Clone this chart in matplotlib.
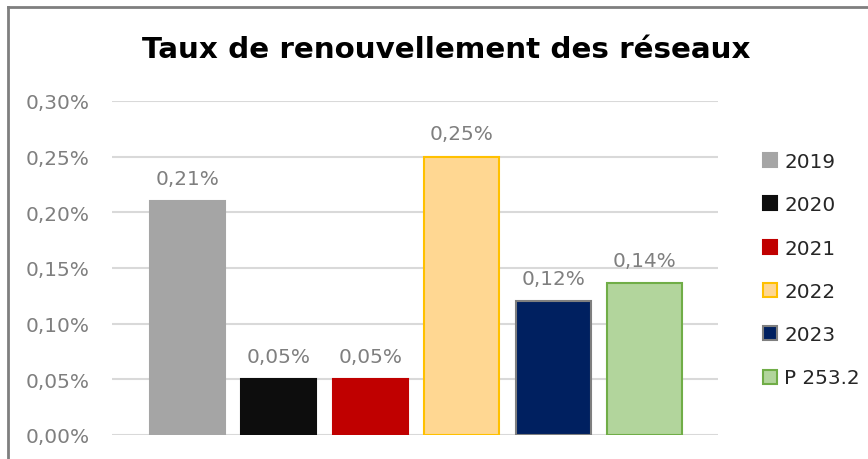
import matplotlib
matplotlib.use("Agg")
import matplotlib.pyplot as plt
from matplotlib.lines import Line2D
from matplotlib.patches import Patch

# data
series = ["2019", "2020", "2021", "2022", "2023", "P 253.2"]
values = [0.21, 0.05, 0.05, 0.25, 0.12, 0.1365]
labels = ["0,21%", "0,05%", "0,05%", "0,25%", "0,12%", "0,14%"]
ticks = [0.0, 0.05, 0.10, 0.15, 0.20, 0.25, 0.30]
tick_labels = ["0,00%", "0,05%", "0,10%", "0,15%", "0,20%", "0,25%", "0,30%"]

fills = ["#A5A5A5", "#0D0D0D", "#C00000", "#FFD792", "#002060", "#B2D59C"]
edges = ["#A5A5A5", "#0D0D0D", "#C00000", "#FFC000", "#7F7F7F", "#70AD47"]

plt.rcParams['font.family'] = ['DejaVu Sans']
grey = "#7F7F7F"
fs = 14.4

fig = plt.figure(figsize=(8.68, 4.6), dpi=100)
ax = fig.add_axes([112 / 868, 24 / 460, 606 / 868, 334 / 460])

x = list(range(len(series)))
bars = ax.bar(x, values, width=0.82, color=fills, edgecolor=edges, linewidth=1.5, zorder=3)
for b, lab in zip(bars, labels):
    ax.text(b.get_x() + b.get_width() / 2, b.get_height() + 0.0155, lab,
            ha="center", va="baseline", fontsize=fs, color=grey)

ax.set_xlim(-0.82, 5.8)
ax.set_ylim(0, 0.30)
ax.set_yticks(ticks)
ax.set_yticklabels(tick_labels, fontsize=fs, color=grey)
ax.set_xticks([])
ax.tick_params(axis="y", length=0, pad=16)
ax.grid(axis="y", color="#D9D9D9", linewidth=1.5, zorder=0)
for s in ax.spines.values():
    s.set_visible(False)

handles = [Patch(facecolor=f, edgecolor=e, linewidth=1.5) for f, e in zip(fills, edges)]
fig.legend(handles, series, loc="upper left", bbox_to_anchor=(745 / 868, 1 - 135 / 460),
           frameon=False, fontsize=fs, handlelength=0.7, handleheight=0.7,
           handletextpad=0.35, labelspacing=1.215, labelcolor="#262626")

fig.text(446 / 868, 1 - 50 / 460, "Taux de renouvellement des réseaux",
         ha="center", va="center", fontsize=21.2, fontweight="bold", color="black")

# outer chart frame
fig.add_artist(Line2D([8 / 868, 8 / 868], [0, 1 - 8 / 460], color=grey, linewidth=2))
fig.add_artist(Line2D([8 / 868, 1], [1 - 8 / 460, 1 - 8 / 460], color=grey, linewidth=2))

fig.savefig("out.png", dpi=100)
